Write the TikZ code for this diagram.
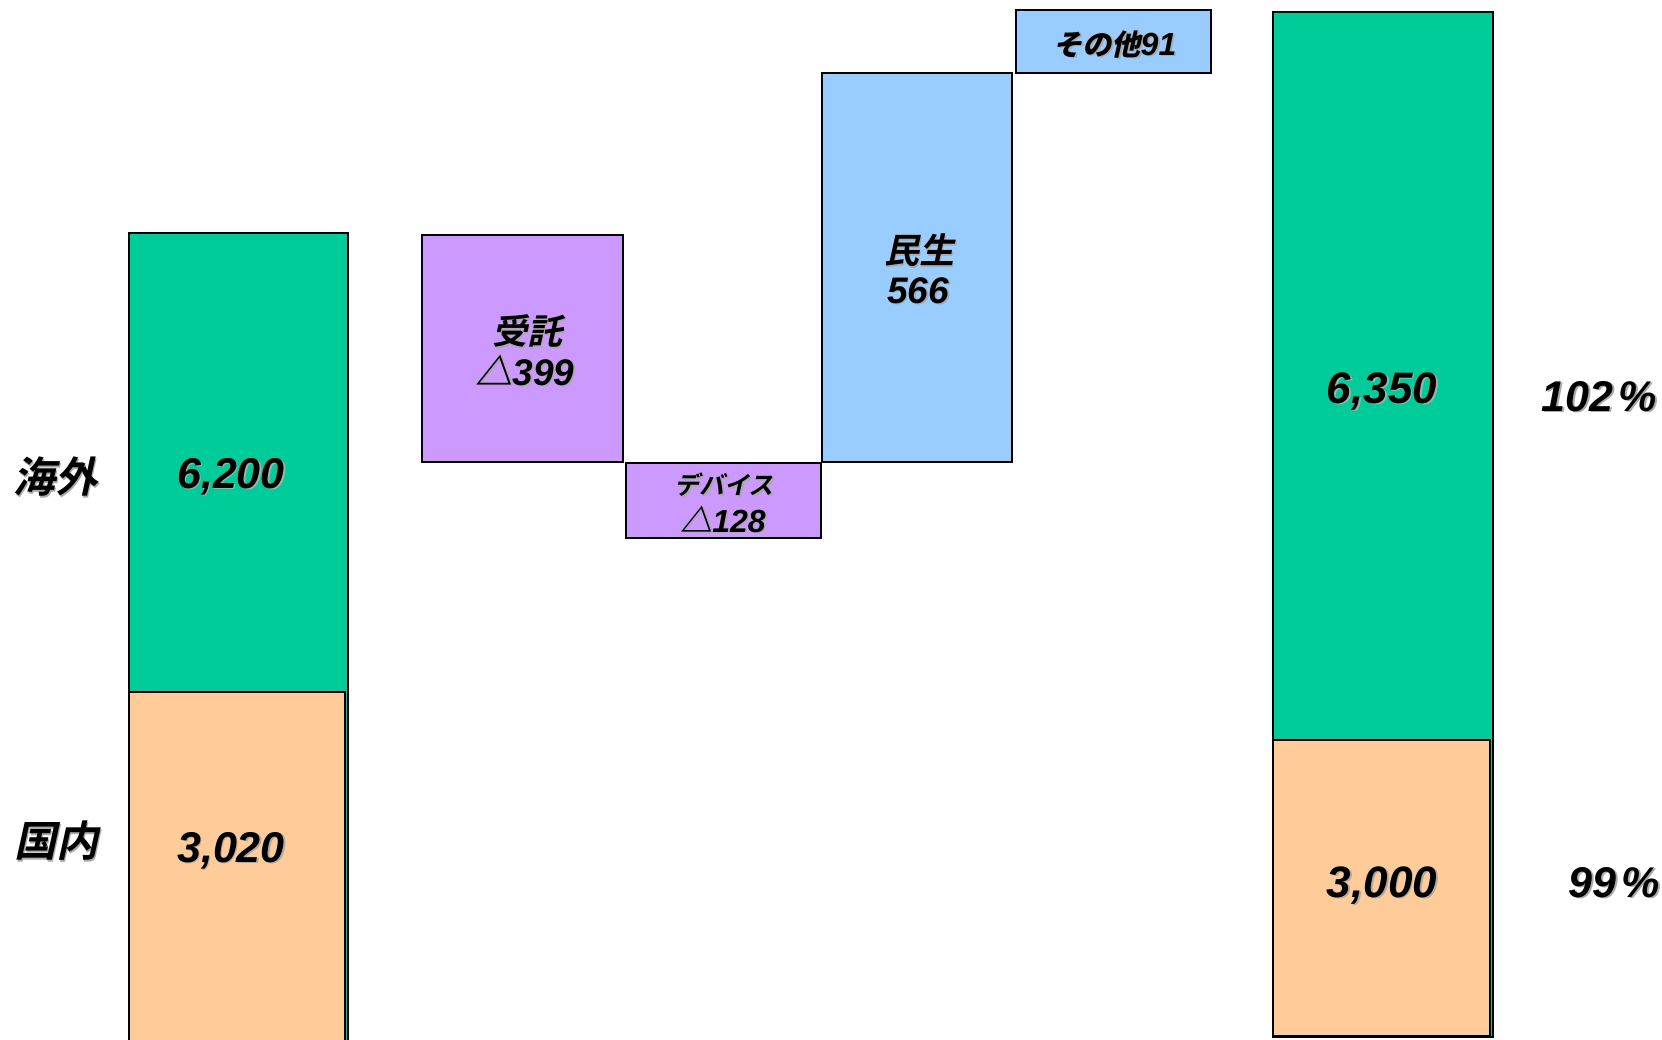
\documentclass[tikz,border=0pt]{standalone}
\usepackage{fontspec}
\setmainfont{Liberation Sans}
\newfontfamily\jpfont{Noto Sans CJK JP Bold}[FakeSlant=0.22]
\definecolor{grn}{HTML}{00CC99}
\definecolor{org}{HTML}{FFCC99}
\definecolor{pur}{HTML}{CC99FF}
\definecolor{blu}{HTML}{99CCFF}
\definecolor{shd}{HTML}{ABABAB}
\tikzset{
  barbox/.style={draw=black, line width=1.6pt},
  lbl/.style={inner sep=0pt, outer sep=0pt, font=\bfseries\itshape},
  num/.style={lbl, anchor=base, text height=0.72em, text depth=0.16em},
  jp/.style={lbl, anchor=center},
}
% shadowed label: #1 name, #2 style, #3 x,y, #4 text
\newcommand\shlbl[4]{%
  \node[#2, text=shd] at ([shift={(1.8,1.8)}]#3) {#4};
  \node[#2] (#1) at (#3) {#4};}
\begin{document}
\begin{tikzpicture}[x=1pt, y=-1pt]
\useasboundingbox (0,0) rectangle (1662,1039);
% left bar
\draw[barbox, fill=grn] (129,233) rectangle (348,1045);
\draw[barbox, fill=org] (129,692) rectangle (345,1045);
% waterfall
\draw[barbox, fill=pur] (422,235) rectangle (623,462);
\draw[barbox, fill=pur] (626,463) rectangle (821,538);
\draw[barbox, fill=blu] (822,73) rectangle (1012,462);
\draw[barbox, fill=blu] (1016,10) rectangle (1211,73);
% right bar
\draw[barbox, fill=grn] (1273,12) rectangle (1493,1037);
\draw[barbox, fill=org] (1273,740) rectangle (1490,1036);

% labels
\shlbl{kaigai}{jp, font=\jpfont\fontsize{42}{42}\selectfont}{55,477}{海外}
\shlbl{kokunai}{jp, font=\jpfont\fontsize{42}{42}\selectfont}{56,841}{国内}
\shlbl{v6200}{num, font=\bfseries\itshape\fontsize{43}{43}\selectfont}{231,488}{6,200}
\shlbl{v3020}{num, font=\bfseries\itshape\fontsize{43}{43}\selectfont}{231,862}{3,020}

\shlbl{jutaku}{jp, font=\jpfont\fontsize{35}{35}\selectfont}{527,331}{受託}
\shlbl{v399}{num, font=\bfseries\itshape\fontsize{37}{37}\selectfont}{525,385}{{\jpfont △}399}

\shlbl{device}{jp, font=\jpfont\fontsize{25}{25}\selectfont}{724,485}{デバイス}
\shlbl{v128}{num, font=\bfseries\itshape\fontsize{32}{32}\selectfont}{723,532}{{\jpfont △}128}

\shlbl{minsei}{jp, font=\jpfont\fontsize{35}{35}\selectfont}{919,250}{民生}
\shlbl{v566}{num, font=\bfseries\itshape\fontsize{37}{37}\selectfont}{918,303}{566}

\shlbl{sonota}{num, font=\bfseries\itshape\fontsize{32}{32}\selectfont}{1115,55}{{\jpfont\fontsize{29}{29}\selectfont その他}91}

\shlbl{v6350}{num, font=\bfseries\itshape\fontsize{44}{44}\selectfont}{1382,403}{6,350}
\shlbl{v3000}{num, font=\bfseries\itshape\fontsize{44}{44}\selectfont}{1382,897}{3,000}
\shlbl{p102}{num, font=\bfseries\itshape\fontsize{43}{43}\selectfont}{1599,411}{102\kern5pt\%}
\shlbl{p99}{num, font=\bfseries\itshape\fontsize{43}{43}\selectfont}{1614,897}{99\kern5pt\%}
\end{tikzpicture}
\end{document}
